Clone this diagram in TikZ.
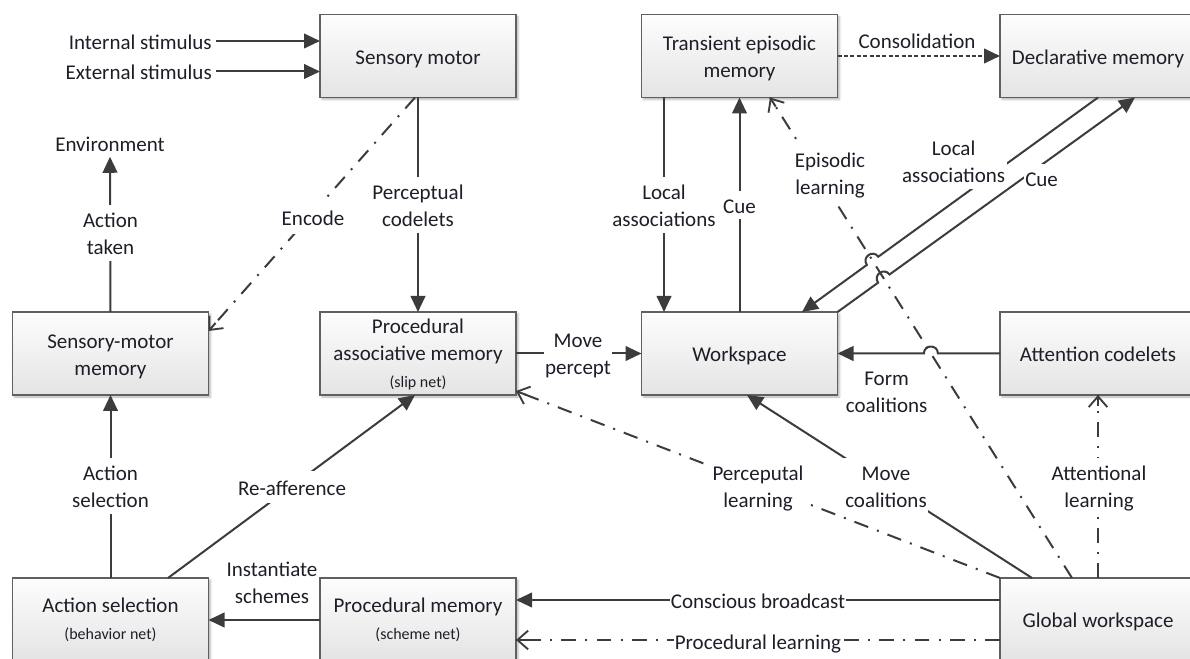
\documentclass[tikz,border=0pt]{standalone}
\usepackage{fontspec}
\setmainfont{Carlito}
\usetikzlibrary{arrows.meta,shadows.blur,calc}

\definecolor{ink}{RGB}{30,30,40}
\definecolor{wire}{RGB}{60,60,60}
\definecolor{frame}{RGB}{96,96,96}
\definecolor{boxtop}{RGB}{253,253,253}
\definecolor{boxbot}{RGB}{228,228,228}

\newcommand\lblfont{\fontsize{15.75}{20.25}\selectfont}
\newcommand\netfont{\fontsize{12}{14.4}\selectfont}
% strut for lines in the label font: tall above the baseline, shallow below
\newcommand\mstrut{\rule[-3.8pt]{0pt}{20.25pt}}

\tikzset{
  box/.style={draw=frame, line width=0.9pt, top color=boxtop, bottom color=boxbot,
    minimum width=147pt, minimum height=62.25pt, inner sep=0pt, outer sep=0pt,
    align=center, font=\lblfont, text=ink,
    blur shadow={shadow xshift=1.5pt, shadow yshift=-1.5pt, shadow blur radius=1.5pt, shadow opacity=30}},
  tag/.style={fill=white, inner xsep=1pt, inner ysep=0.5pt, align=center, font=\lblfont, text=ink},
  plain/.style={inner sep=0pt, align=center, font=\lblfont, text=ink},
  conn/.style={draw=wire, line width=1.5pt},
  solid tip/.style={-{Triangle[length=12pt,width=11pt]}},
  open tip/.style={-{Straight Barb[length=8pt,width=14pt,line width=1.4pt]}},
  dashdot/.style={dash pattern=on 11pt off 7pt on 1.5pt off 7pt},
  dotline/.style={dash pattern=on 3pt off 1.8pt},
}
% dash-dot link from #1 to #2 with a solid barbed head
\newcommand\learnlink[2]{%
  \draw[conn,dashdot] #1 coordinate (ls) -- #2 coordinate (le);
  \draw[conn,open tip] ($(le)!8pt!(ls)$) -- (le);
}

\begin{document}
\begin{tikzpicture}[x=0.75pt, y=-0.75pt]
\useasboundingbox (0,0) rectangle (1190,659);
\clip (0,0) rectangle (1190,659);

% ---- boxes ----
\node[box] (SM)  at (418,56)    {\mstrut Sensory motor};
\node[box] (TEM) at (739.5,56)  {\mstrut Transient episodic\\\mstrut memory};
\node[box] (DM)  at (1098,56)   {\mstrut Declarative memory};
\node[box] (SMM) at (110.5,353.5) {\mstrut Sensory-motor\\\mstrut memory};
\node[box] (PAM) at (418,353.5) {\strut Procedural\\\strut associative memory\\{\netfont\strut (slip net)}};
\node[box] (WS)  at (739.5,353.5) {\mstrut Workspace};
\node[box] (AC)  at (1098,353.5) {\mstrut Attention codelets};
\node[box] (AS)  at (110.5,619.5) {\strut Action selection\\{\netfont\strut (behavior net)}};
\node[box] (PM)  at (418,619.5) {\strut Procedural memory\\{\netfont\strut (scheme net)}};
\node[box] (GW)  at (1098,619.5) {\mstrut Global workspace};

% ---- free texts ----
\node[plain, inner xsep=3pt, anchor=east] (intl) at (216,41)   {\mstrut Internal stimulus};
\node[plain, inner xsep=3pt, anchor=east] (extl) at (216,71.5) {\mstrut External stimulus};
\node[plain] (env) at (110,143) {\mstrut Environment};

% ---- solid connectors ----
\draw[conn,solid tip] (intl.east) -- (intl.east -| SM.west);
\draw[conn,solid tip] (extl.east) -- (extl.east -| SM.west);
\draw[conn,solid tip] (SMM.north) -- (env.south);
\draw[conn,solid tip] (AS.north) -- (SMM.south);
\draw[conn,solid tip] (SM.south) -- (PAM.north);
\draw[conn,solid tip] (AS.north -| 168,0) -- (PAM.south -| 415,0);
\draw[conn,solid tip] (PM.west |- 0,620) -- (AS.east |- 0,620);
\draw[conn,solid tip] (PAM.east) -- (WS.west);
\draw[conn,solid tip] (TEM.south -| 664,0) -- (WS.north -| 664,0);
\draw[conn,solid tip] (WS.north) -- (TEM.south);
\draw[conn,solid tip] (GW.north -| 1032,0) -- (WS.south -| 747,0);
\draw[conn,solid tip] (GW.west |- 0,600) -- (PM.east |- 0,600);

% connectors hopping over the episodic-learning line
\draw[conn,solid tip] (DM.south) -- (878.3,256.7)
  .. controls (872.8,249.1) and (861.4,257.3) .. (866.9,264.9)
  -- (WS.north -| 802,0);
\draw[conn,solid tip] (WS.north east) -- (878.1,282.7)
  .. controls (872.6,275.1) and (884.0,266.9) .. (889.5,274.5)
  -- (DM.south -| 1135,0);
\draw[conn,solid tip] (AC.west) -- (937.9,353.5)
  .. controls (937.9,344.2) and (923.9,344.2) .. (923.9,353.5)
  -- (WS.east);

% ---- dotted and dash-dot connectors ----
\draw[conn,dotline,solid tip] (TEM.east) -- (DM.west);
\learnlink{(SM.south -| 415,0)}{(SMM.east |- 0,331)}
\learnlink{(GW.north -| 1072,0)}{(TEM.south -| 770,0)}
\learnlink{(GW.north west)}{(PAM.east |- 0,391)}
\learnlink{(GW.north)}{(AC.south)}
\learnlink{(GW.west |- 0,640)}{(PM.east |- 0,640)}

% ---- connector labels ----
\node[tag] (t-taken)  at (110.5,233) {\mstrut Action\\\mstrut taken};
\node[tag] (t-asel)   at (110.5,486) {\mstrut Action\\\mstrut selection};
\node[tag] (t-pcod)   at (418,205)   {\mstrut Perceptual\\\mstrut codelets};
\node[tag, inner sep=3pt] (t-enc) at (313,217) {\mstrut Encode};
\node[tag, inner sep=2pt] (t-reaff) at (292,487) {\mstrut Re-afference};
\node[plain] (t-inst) at (272,582) {\mstrut Instantiate\\\mstrut schemes};
\node[tag] (t-mvp)    at (578,353)   {\mstrut Move\\\mstrut percept};
\node[tag] (t-loc1)   at (664,205)   {\mstrut Local\\\mstrut associations};
\node[tag] (t-cue1)   at (739.5,205) {\mstrut Cue};
\node[plain] (t-cons) at (917,40)    {\mstrut Consolidation};
\node[tag] (t-epi)    at (830,173)   {\mstrut Episodic\\\mstrut learning};
\node[tag] (t-loc2)   at (953.6,161) {\mstrut Local\\\mstrut associations};
\node[tag] (t-cue2)   at (1041.6,178) {\mstrut Cue};
\node[plain] (t-form) at (886.6,391) {\mstrut Form\\\mstrut coalitions};
\node[tag] (t-mvc)    at (886,486)   {\mstrut Move\\\mstrut coalitions};
\node[tag] (t-plearn) at (758,486)   {\mstrut Perceputal\\\mstrut learning};
\node[tag] (t-alearn) at (1099,486)  {\mstrut Attentional\\\mstrut learning};
\node[tag] (t-cb)     at (758,600)   {\mstrut Conscious broadcast};
\node[tag] (t-prl)    at (758,641)   {\mstrut Procedural learning};
\end{tikzpicture}
\end{document}
